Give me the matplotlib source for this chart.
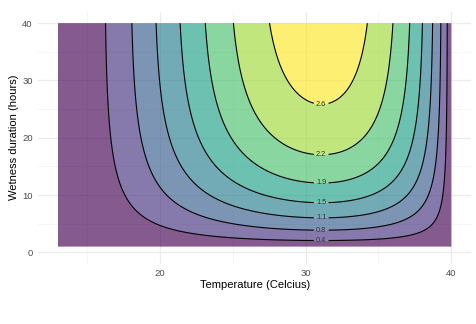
import numpy as np
import matplotlib
matplotlib.use("Agg")
import matplotlib.pyplot as plt

# ---- data (model parameters) ----
temp_min, temp_max = 13.0, 40.0          # temperature range of the surface (Celcius)
wet_min, wet_max = 1.0, 40.0              # wetness duration range (hours)
temp_base, temp_opt, temp_ceiling = 13.5, 31.2, 40.0
shape_low, shape_high = 1.5, 0.76         # temperature response exponents
peak_value = 2.95                          # maximum response
wet_rate, wet_lag = 0.087, 0.5             # wetness response (1/h, h)
level_step = 0.375
n_bands = 8

x_ticks = [20, 30, 40]
y_ticks = [0, 10, 20, 30, 40]
x_label = "Temperature (Celcius)"
y_label = "Wetness duration (hours)"

# ---- surface ----
T = np.linspace(temp_min, temp_max, 400)
W = np.linspace(wet_min, wet_max, 300)
TT, WW = np.meshgrid(T, W)
lo = np.clip((TT - temp_base) / (temp_opt - temp_base), 0, None)
hi = np.clip((temp_ceiling - TT) / (temp_ceiling - temp_opt), 0, None)
f_temp = lo ** shape_low * hi ** shape_high
g_wet = 1 - np.exp(-wet_rate * np.clip(WW - wet_lag, 0, None))
Z = peak_value * f_temp * g_wet

levels = np.arange(n_bands + 1) * level_step
line_levels = levels[1:-1]

plt.rcParams["font.family"] = ["Liberation Sans", "DejaVu Sans"]
fig = plt.figure(figsize=(4.76, 3.24), dpi=100)
ax = fig.add_axes([0.0805, 0.1858, 0.9895 - 0.0805, 0.9639 - 0.1858])

cmap = plt.get_cmap("viridis", n_bands)
colors = [cmap(i) for i in range(n_bands)]
ax.contourf(TT, WW, Z, levels=levels, colors=colors, alpha=0.65, zorder=2,
            antialiased=True)
cs = ax.contour(TT, WW, Z, levels=line_levels, colors="black",
                linewidths=0.8, zorder=3)

# label each contour at its lowest point
positions = []
for segs in cs.allsegs:
    pts = np.vstack(segs)
    positions.append(tuple(pts[np.argmin(pts[:, 1])]))
ax.clabel(cs, fmt="%.1f", fontsize=5.3, inline=True, inline_spacing=3,
          manual=positions, colors="#333333")

ax.set_xlim(temp_min - 0.05 * (temp_max - temp_min),
            temp_max + 0.05 * (temp_max - temp_min))
ax.set_ylim(-2, 42)
ax.set_xticks(x_ticks)
ax.set_yticks(y_ticks)
ax.set_xticks([15, 25, 35], minor=True)
ax.set_yticks([5, 15, 25, 35], minor=True)
ax.grid(which="major", color="#EBEBEB", linewidth=0.9, zorder=0)
ax.grid(which="minor", color="#F2F2F2", linewidth=0.5, zorder=0)
ax.set_axisbelow(True)
for s in ax.spines.values():
    s.set_visible(False)
ax.tick_params(which="both", length=0, labelsize=6.8, labelcolor="#4D4D4D",
               pad=4)

ax.set_xlabel(x_label, fontsize=8, color="black")
ax.set_ylabel(y_label, fontsize=8, color="black")
ax.xaxis.label.set_va("center")
ax.yaxis.label.set_va("center")
ax.xaxis.set_label_coords(0.5, -0.084)
ax.yaxis.set_label_coords(-0.056, 0.5)

fig.savefig("out.png", dpi=100)
